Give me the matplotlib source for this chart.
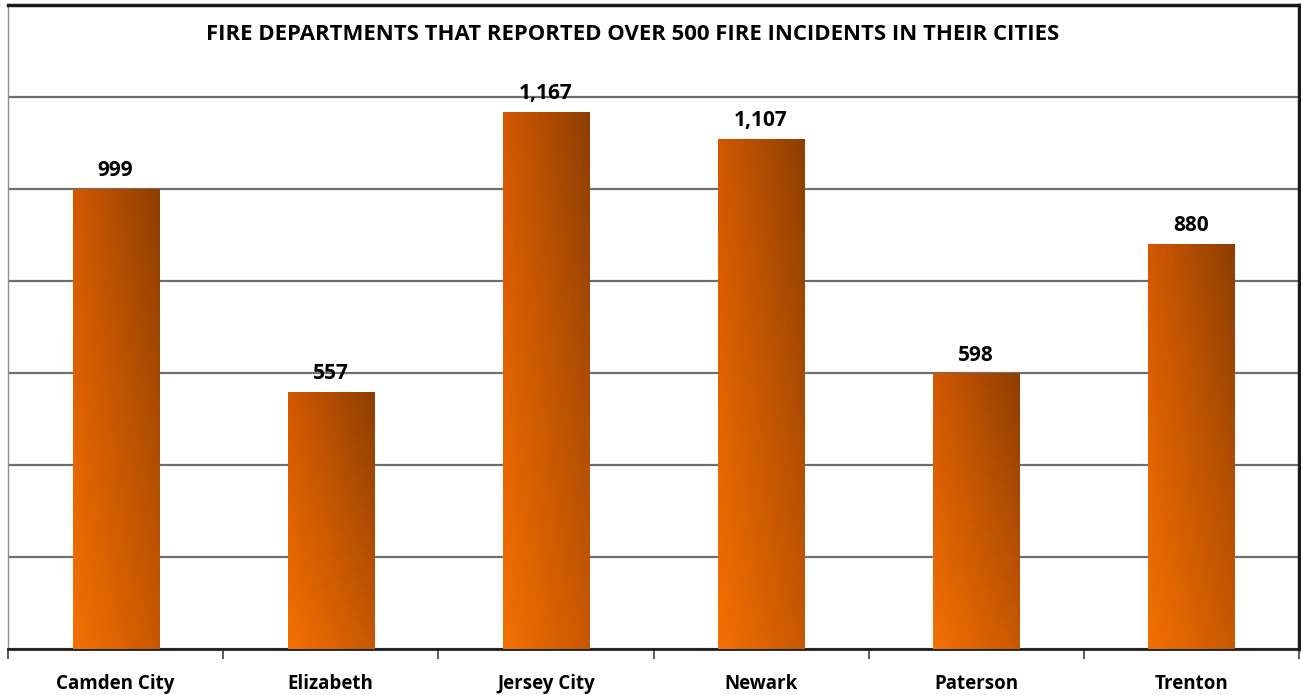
"""Bar chart of NJ fire departments with over 500 fire incidents."""

import matplotlib

matplotlib.use("Agg")

import matplotlib.pyplot as plt
import numpy as np

cities = ["Camden City", "Elizabeth", "Jersey City", "Newark", "Paterson", "Trenton"]
incidents = [999, 557, 1167, 1107, 598, 880]
title = "FIRE DEPARTMENTS THAT REPORTED OVER 500 FIRE INCIDENTS IN THEIR CITIES"

# corner colours of the bar gradient (bottom-left, bottom-right, top-left, top-right)
c_bl = np.array([242, 112, 0]) / 255
c_br = np.array([200, 88, 0]) / 255
c_tl = np.array([210, 88, 0]) / 255
c_tr = np.array([140, 62, 0]) / 255

plt.rcParams["font.family"] = ["Open Sans", "DejaVu Sans"]
plt.rcParams["font.weight"] = "bold"

fig = plt.figure(figsize=(13.01, 6.95), dpi=100)
ax = fig.add_axes([8 / 1301, 46 / 695, 1291 / 1301, 644 / 695])

x = np.arange(len(cities))
width = 0.4
bars = ax.bar(x, incidents, width=width, color="none", zorder=3)

# gradient fill for every bar
gx, gy = np.meshgrid(np.linspace(0, 1, 64), np.linspace(0, 1, 256))
grad = (
    c_bl[None, None, :] * ((1 - gx) * (1 - gy))[..., None]
    + c_br[None, None, :] * (gx * (1 - gy))[..., None]
    + c_tl[None, None, :] * ((1 - gx) * gy)[..., None]
    + c_tr[None, None, :] * (gx * gy)[..., None]
)
for bar in bars:
    x0, y0 = bar.get_x(), bar.get_y()
    w, h = bar.get_width(), bar.get_height()
    ax.imshow(grad, extent=(x0, x0 + w, y0, y0 + h), origin="lower",
              aspect="auto", zorder=3, interpolation="bilinear")

for xi, v in zip(x, incidents):
    ax.annotate(f"{v:,}", (xi, v), xytext=(0, 6), textcoords="offset points",
                ha="center", va="bottom", fontsize=15, fontweight="bold", color="black")

ax.set_xlim(-0.5, len(cities) - 0.5)
ax.set_ylim(0, 1400)
ax.set_yticks(np.arange(0, 1401, 200))
ax.yaxis.grid(True, color="#6e6e6e", linewidth=1.6, zorder=1)
ax.set_axisbelow(True)
ax.tick_params(axis="y", left=False, labelleft=False)

ax.set_xticks(x)
ax.set_xticklabels(cities, fontsize=13.5, fontweight="bold")
ax.set_xticks(np.arange(-0.5, len(cities)), minor=True)
ax.tick_params(axis="x", which="major", length=0, pad=18)
ax.tick_params(axis="x", which="minor", length=7, width=1.2, color="#404040")

ax.spines["left"].set_color("#909090")
ax.spines["left"].set_linewidth(1.0)
ax.spines["bottom"].set_color("#202020")
ax.spines["bottom"].set_linewidth(2.0)
ax.spines["top"].set_color("#1a1a1a")
ax.spines["top"].set_linewidth(2.5)
ax.spines["right"].set_color("#1a1a1a")
ax.spines["right"].set_linewidth(2.5)

ax.text(0.4835, 1 - 30 / 644, title, transform=ax.transAxes, ha="center", va="center",
        fontsize=15.9, fontweight="bold", color="black")

fig.savefig("out.png", dpi=100)
